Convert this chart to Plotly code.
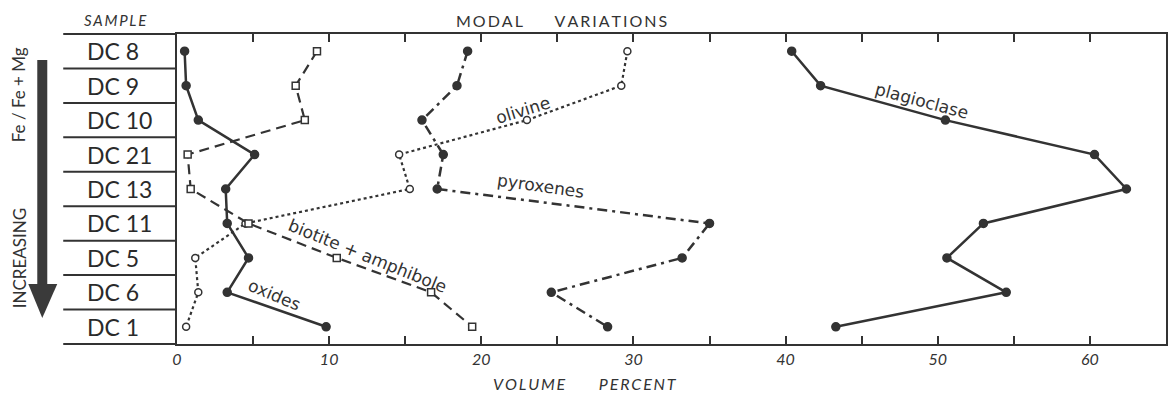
import plotly.graph_objects as go

samples = ["DC 8", "DC 9", "DC 10", "DC 21", "DC 13", "DC 11", "DC 5", "DC 6", "DC 1"]
oxides = [0.5, 0.6, 1.4, 5.1, 3.2, 3.3, 4.7, 3.3, 9.8]
biotite_amphibole = [9.2, 7.8, 8.4, 0.7, 0.9, 4.7, 10.5, 16.7, 19.4]
olivine = [29.6, 29.2, 23.0, 14.6, 15.3, 4.5, 1.2, 1.4, 0.6]
pyroxenes = [19.1, 18.4, 16.1, 17.5, 17.1, 35.0, 33.2, 24.6, 28.3]
plagioclase = [40.4, 42.3, 50.5, 60.3, 62.4, 53.0, 50.6, 54.5, 43.3]
tick_vals = [0, 5, 10, 15, 20, 25, 30, 35, 40, 45, 50, 55, 60]
tick_text = ["0", "", "10", "", "20", "", "30", "", "40", "", "50", "", "60"]

INK = "#333333"
FONT = "Lato"
LFONT = "DejaVu Sans"
TS = "&#8201;"
NB = "&nbsp;"

fig = go.Figure()

def add(vals, dash, width, symbol, msize, filled):
    fig.add_trace(go.Scatter(
        x=vals, y=samples, mode="lines+markers",
        line=dict(color=INK, width=width, dash=dash),
        marker=dict(symbol=symbol, size=msize,
                    color=INK if filled else "white",
                    line=dict(color=INK, width=1.5)),
        showlegend=False, cliponaxis=False))

add(plagioclase, "solid", 2.5, "circle", 8, True)
add(pyroxenes, "10px,5px,3px,5px", 2.5, "circle", 8, True)
add(olivine, "dot", 2.2, "circle", 7, False)
add(biotite_amphibole, "10px,6px", 2.2, "square", 7, False)
add(oxides, "solid", 2.5, "circle", 8, True)

fig.update_xaxes(range=[0, 65], showgrid=False, zeroline=False,
                 showline=True, linecolor=INK, linewidth=2, mirror="ticks",
                 ticks="inside", ticklen=8, tickwidth=2, tickcolor=INK,
                 tickvals=tick_vals, ticktext=["<i>%s</i>" % t for t in tick_text],
                 tickfont=dict(family=FONT, size=16, color=INK))
fig.update_yaxes(type="category", categoryarray=samples, range=[8.5, -0.5],
                 showgrid=False, zeroline=False, showline=True, linecolor=INK,
                 linewidth=2, mirror=True, ticks="", showticklabels=False)

shapes = []
L0 = (63 - 177) / 991
for i in range(8):
    shapes.append(dict(type="line", xref="paper", yref="y", x0=L0, x1=0,
                       y0=i + 0.5, y1=i + 0.5, line=dict(color=INK, width=2)))
shapes.append(dict(type="line", xref="paper", yref="paper", x0=L0, x1=0, y0=1, y1=1,
                   line=dict(color=INK, width=2)))
shapes.append(dict(type="line", xref="paper", yref="paper", x0=L0, x1=0, y0=0, y1=0,
                   line=dict(color=INK, width=2)))
# arrow
ax = (42 - 177) / 991
shapes.append(dict(type="line", xref="paper", yref="paper", x0=ax, x1=ax,
                   y0=(344 - 60) / 310, y1=(344 - 286) / 310,
                   line=dict(color="#3a3a3a", width=10)))
hx0 = (28 - 177) / 991
hx1 = (57 - 177) / 991
hy = (344 - 284) / 310
ty = (344 - 318) / 310
shapes.append(dict(type="path", xref="paper", yref="paper",
                   path=f"M {hx0} {hy} L {hx1} {hy} L {ax} {ty} Z",
                   fillcolor="#3a3a3a", line=dict(width=0)))

annotations = []
for i, s in enumerate(samples):
    annotations.append(dict(x=(85 - 177) / 991, xref="paper", y=i, yref="y", text=s,
                            showarrow=False, xanchor="left", yanchor="middle",
                            font=dict(family=FONT, size=23, color="#2a2a2a")))

def txt(text, px, py, size, angle=0, family=FONT):
    annotations.append(dict(x=(px - 177) / 991, xref="paper", y=(344 - py) / 310,
                            yref="paper", text=text, xanchor="center", yanchor="middle",
                            showarrow=False, textangle=angle,
                            font=dict(family=family, size=size, color=INK)))

def spaced(word):
    return TS.join(list(word))

txt("<i>" + spaced("SAMPLE") + "</i>", 115, 20, 15)
txt(spaced("MODAL") + NB * 8 + spaced("VARIATIONS"), 562, 21, 16)
txt("<i>" + spaced("VOLUME") + NB * 9 + spaced("PERCENT") + "</i>", 586, 384, 16)
txt("Fe / Fe + Mg", 18, 95, 17, angle=-90)
txt("INCREASING", 19, 258, 17, angle=-90)

txt("olivine", 524, 110, 17, -17, LFONT)
txt("pyroxenes", 542, 186, 17, 8, LFONT)
txt("biotite + amphibole", 368, 256, 17, 22, LFONT)
txt("oxides", 275, 295, 17, 23, LFONT)
txt("plagioclase", 924, 101, 17, 15, LFONT)

fig.update_layout(width=1171, height=393, margin=dict(l=177, r=3, t=34, b=49),
                  paper_bgcolor="white", plot_bgcolor="white",
                  shapes=shapes, annotations=annotations)

fig.write_html("out.html")
